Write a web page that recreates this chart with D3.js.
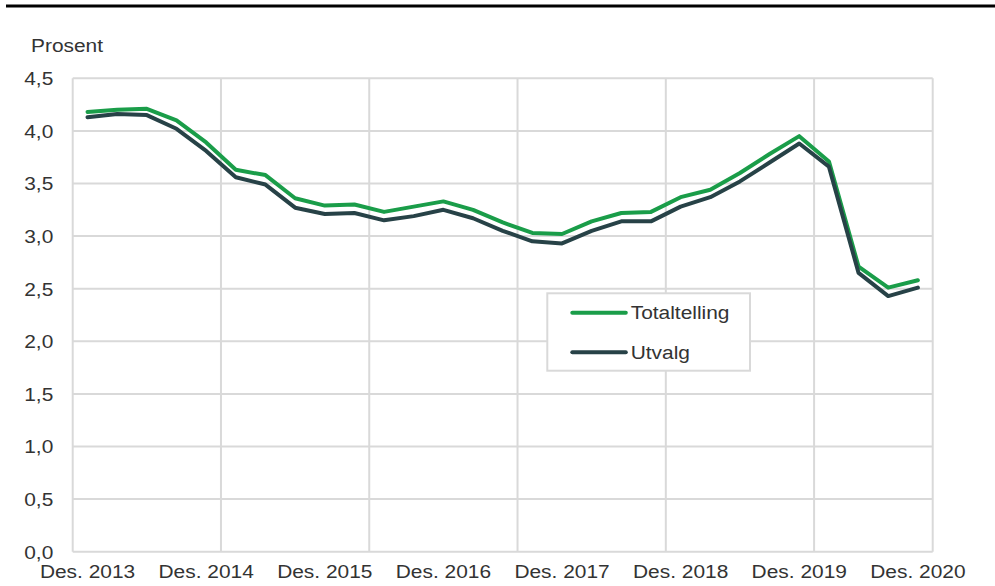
<!DOCTYPE html>
<html>
<head>
<meta charset="utf-8">
<script src="https://cdn.jsdelivr.net/npm/d3@7"></script>
<style>
  html, body { margin: 0; padding: 0; background: #fff; }
  svg { display: block; }
  text { font-family: "Liberation Sans", Arial, sans-serif; fill: #333; }
</style>
</head>
<body>
<svg id="chart" width="995" height="586"></svg>
<script>
// ---- Data ----
const categories = [
  "Des. 2013","Mar. 2014","Jun. 2014","Sep. 2014",
  "Des. 2014","Mar. 2015","Jun. 2015","Sep. 2015",
  "Des. 2015","Mar. 2016","Jun. 2016","Sep. 2016",
  "Des. 2016","Mar. 2017","Jun. 2017","Sep. 2017",
  "Des. 2017","Mar. 2018","Jun. 2018","Sep. 2018",
  "Des. 2018","Mar. 2019","Jun. 2019","Sep. 2019",
  "Des. 2019","Mar. 2020","Jun. 2020","Sep. 2020",
  "Des. 2020"
];
const totaltelling = [
  4.18, 4.20, 4.21, 4.10,
  3.89, 3.63, 3.58, 3.36,
  3.29, 3.30, 3.23, 3.28,
  3.33, 3.25, 3.13, 3.03,
  3.02, 3.14, 3.22, 3.23,
  3.37, 3.44, 3.60, 3.78,
  3.95, 3.71, 2.71, 2.51,
  2.58
];
const utvalg = [
  4.13, 4.16, 4.15, 4.02,
  3.81, 3.56, 3.49, 3.27,
  3.21, 3.22, 3.15, 3.19,
  3.25, 3.17, 3.05, 2.95,
  2.93, 3.05, 3.14, 3.14,
  3.28, 3.37, 3.52, 3.70,
  3.88, 3.66, 2.65, 2.43,
  2.51
];
const seriesNames = ["Totaltelling", "Utvalg"];
const yTicks = [0, 0.5, 1, 1.5, 2, 2.5, 3, 3.5, 4, 4.5];
const xTickLabels = ["Des. 2013","Des. 2014","Des. 2015","Des. 2016","Des. 2017","Des. 2018","Des. 2019","Des. 2020"];
const yUnit = "Prosent";

// ---- Styles ----
const colors = ["#1a9d49", "#274247"];
const gridColor = "#d9d9d9";
const fontSize = 19;
const sx = 1.1; // horizontal text stretch

const svg = d3.select("#chart");
const margin = { left: 72.7, right: 995 - 932.7, top: 78.3, bottom: 586 - 551.7 };
const W = 995, H = 586;
const innerW = W - margin.left - margin.right;
const innerH = H - margin.top - margin.bottom;

// top rule
svg.append("line")
  .attr("x1", 6).attr("x2", 995).attr("y1", 6).attr("y2", 6)
  .attr("stroke", "#000").attr("stroke-width", 3);

// unit label
svg.append("text")
  .attr("transform", `translate(31,51.5) scale(${sx},1)`)
  .style("font-size", fontSize + "px")
  .text(yUnit);

const g = svg.append("g").attr("transform", `translate(${margin.left},${margin.top})`);

const x = d3.scaleBand().domain(categories).range([0, innerW]).paddingInner(0).paddingOuter(0);
const y = d3.scaleLinear().domain([0, 4.5]).range([innerH, 0]);

const locale = d3.formatLocale({ decimal: ",", thousands: " ", grouping: [3], currency: ["", " kr"] });
const fmt = locale.format(".1f");

// horizontal gridlines
g.append("g").selectAll("line").data(yTicks).join("line")
  .attr("x1", 0).attr("x2", innerW)
  .attr("y1", d => y(d)).attr("y2", d => y(d))
  .attr("stroke", gridColor).attr("stroke-width", 2);

// vertical gridlines: every 5 categories + right border
const vIdx = d3.range(0, categories.length, 5);
const vx = vIdx.map(i => x(categories[i])).concat([x.range()[1]]);
g.append("g").selectAll("line").data(vx).join("line")
  .attr("x1", d => d).attr("x2", d => d)
  .attr("y1", 0).attr("y2", innerH)
  .attr("stroke", gridColor).attr("stroke-width", 2);

// y axis
const yAxis = g.append("g")
  .call(d3.axisLeft(y).tickValues(yTicks).tickFormat(fmt).tickSize(0).tickPadding(0));
yAxis.select(".domain").remove();
yAxis.selectAll("text")
  .attr("x", -19.4 / sx)
  .attr("dy", "0.34em")
  .attr("transform", `scale(${sx},1)`)
  .style("font-size", fontSize + "px")
  .style("font-family", "'Liberation Sans', Arial, sans-serif")
  .attr("fill", "#333");

// x axis
const xAxis = g.append("g").attr("transform", `translate(0,${innerH})`)
  .call(d3.axisBottom(x).tickValues(xTickLabels).tickSize(0).tickPadding(0));
xAxis.select(".domain").remove();
xAxis.selectAll("text")
  .attr("y", 26.5).attr("dy", 0)
  .attr("transform", `scale(${sx},1)`)
  .style("font-size", fontSize + "px")
  .style("font-family", "'Liberation Sans', Arial, sans-serif")
  .attr("fill", "#333");

// lines
const line = d3.line()
  .x((d, i) => x(categories[i]) + x.bandwidth() / 2)
  .y(d => y(d));

[totaltelling, utvalg].forEach((s, k) => {
  g.append("path")
    .datum(s)
    .attr("d", line)
    .attr("fill", "none")
    .attr("stroke", colors[k])
    .attr("stroke-width", 4)
    .attr("stroke-linejoin", "round")
    .attr("stroke-linecap", "round");
});

// legend
const lg = svg.append("g").attr("transform", "translate(547.3,293.3)");
lg.append("rect")
  .attr("width", 202.7).attr("height", 77.4)
  .attr("fill", "#fff").attr("stroke", gridColor).attr("stroke-width", 2);
const items = lg.selectAll("g.item").data(seriesNames).join("g")
  .attr("class", "item")
  .attr("transform", (d, i) => `translate(0,${19.4 + i * 39.6})`);
items.append("line")
  .attr("x1", 25).attr("x2", 78.5).attr("y1", 0).attr("y2", 0)
  .attr("stroke", (d, i) => colors[i]).attr("stroke-width", 4)
  .attr("stroke-linecap", "round");
items.append("text")
  .attr("transform", `translate(83.4,6.6) scale(${sx},1)`)
  .style("font-size", fontSize + "px")
  .text(d => d);
</script>
</body>
</html>
